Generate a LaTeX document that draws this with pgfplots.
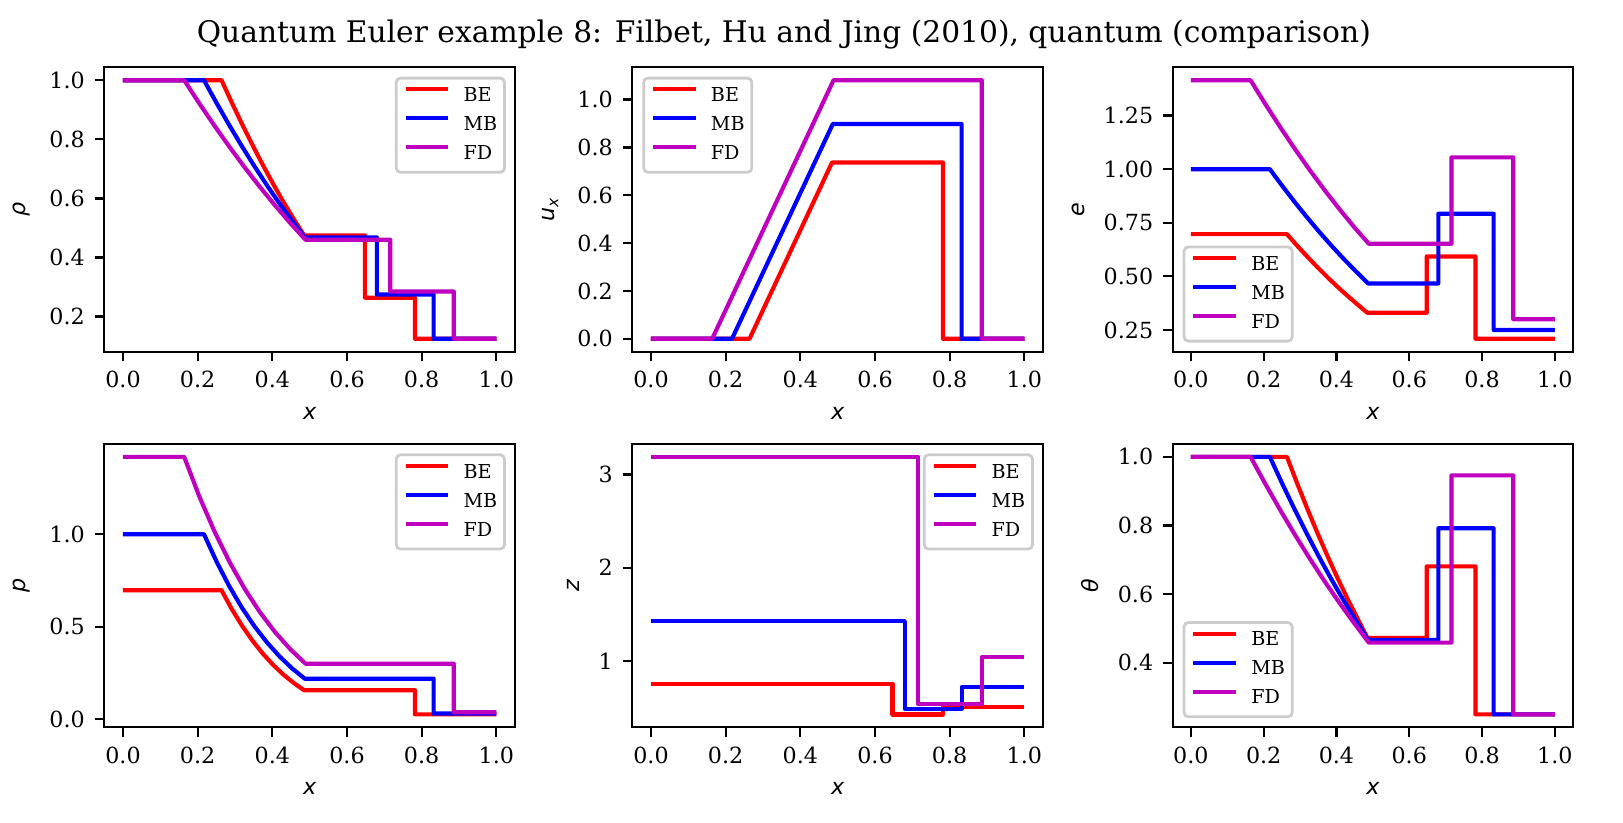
\documentclass[border=0pt]{standalone}
\usepackage{fontspec}
\setmainfont{DejaVu Serif}
\newfontfamily\lblfont{DejaVu Sans}[ItalicFont={DejaVu Sans Oblique}]
\usepackage{pgfplots}
\pgfplotsset{compat=1.18}
\definecolor{cBE}{rgb}{1,0,0}
\definecolor{cMB}{rgb}{0,0,1}
\definecolor{cFD}{rgb}{0.75,0,0.75}
\newcommand\sub[1]{\raisebox{-0.3ex}{\fontsize{5.6}{6}\selectfont #1}}
\pgfplotsset{
  base/.style={
    scale only axis, anchor=south west,
    xmin=-0.05, xmax=1.05,
    xtick={0,0.2,0.4,0.6,0.8,1.0},
    xticklabels={0.0,0.2,0.4,0.6,0.8,1.0},
    xtick pos=bottom, ytick pos=left,
    tick align=outside, major tick length=3.5pt,
    every tick/.style={black, line width=0.8pt},
    axis line style={line width=0.8pt},
    ticklabel style={font=\fontsize{8}{9.6}\selectfont},
    label style={font=\fontsize{8}{9.6}\selectfont\lblfont\itshape},
    xlabel={x},
    /pgf/number format/assume math mode=true,
    every axis plot/.append style={line width=1.5pt, line join=round, no markers},
    legend cell align=left,
    legend image code/.code={\draw[#1,line width=1.5pt] (0pt,2.5pt) -- (15.3pt,2.5pt); \path (20.1pt,0pt);},
    legend style={draw=black!20, line width=1pt, rounded corners=1.5pt,
      fill=white, fill opacity=0.8, draw opacity=1, text opacity=1,
      font=\fontsize{6.9}{8.3}\selectfont,
      inner xsep=2.6pt, inner ysep=2.5pt, row sep=2.45pt,
      nodes={inner sep=0pt, text height=5.9pt, text depth=2.1pt}},
  },
  col1/.style={base, at={(37.55pt,#1)}, width=147.85pt},
  col2/.style={base, at={(227.63pt,#1)}, width=147.85pt},
  col3/.style={base, at={(422.17pt,#1)}, width=144.1pt},
  toprow/.style={height=102.38pt},
  botrow/.style={height=101.99pt},
  legNE/.style={legend style={at={(1,1)}, anchor=north east, xshift=-3.3pt, yshift=-3.4pt}},
  legNW/.style={legend style={at={(0,1)}, anchor=north west, xshift=3.6pt, yshift=-3.4pt}},
  legSW/.style={legend style={at={(0,0)}, anchor=south west, xshift=3.6pt, yshift=3.3pt}},
}
\begin{document}
\begin{tikzpicture}
\useasboundingbox (0,0) rectangle (584.28pt,296.28pt);
\node[font=\fontsize{10.7}{12.8}\selectfont] at (282.2pt,283.7pt) {Quantum Euler example 8: Filbet, Hu and Jing (2010), quantum (comparison)};

% rho
\begin{axis}[col1=169.67pt, toprow, legNE, ymin=0.08125, ymax=1.04375,
  ytick={0.2,0.4,0.6,0.8,1.0}, yticklabels={0.2,0.4,0.6,0.8,1.0}, ylabel={ρ}]
\addplot[cBE] coordinates {(0,1) (0.264,1) (0.2916,0.9238) (0.3193,0.8506) (0.3469,0.7805) (0.3745,0.7134) (0.4021,0.6492) (0.4298,0.5881) (0.4574,0.5301) (0.485,0.475) (0.648,0.475) (0.648,0.264) (0.782,0.264) (0.782,0.125) (1,0.125)};
\addplot[cMB] coordinates {(0,1) (0.217,1) (0.2508,0.9226) (0.2845,0.8483) (0.3183,0.7771) (0.352,0.7091) (0.3858,0.6441) (0.4195,0.5823) (0.4533,0.5236) (0.487,0.468) (0.680,0.468) (0.680,0.275) (0.832,0.275) (0.832,0.125) (1,0.125)};
\addplot[cFD] coordinates {(0,1) (0.164,1) (0.2046,0.9212) (0.2453,0.8456) (0.2859,0.7732) (0.3265,0.7041) (0.3671,0.6382) (0.4078,0.5756) (0.4484,0.5161) (0.489,0.460) (0.716,0.460) (0.716,0.285) (0.886,0.285) (0.886,0.125) (1,0.125)};
\legend{BE,MB,FD}
\end{axis}

% u_x
\begin{axis}[col2=169.67pt, toprow, legNW, ymin=-0.054, ymax=1.135,
  ytick={0,0.2,0.4,0.6,0.8,1.0}, yticklabels={0.0,0.2,0.4,0.6,0.8,1.0}, ylabel={u\sub{x}}]
\addplot[cBE] coordinates {(0,0) (0.264,0) (0.485,0.737) (0.782,0.737) (0.782,0) (1,0)};
\addplot[cMB] coordinates {(0,0) (0.217,0) (0.487,0.898) (0.832,0.898) (0.832,0) (1,0)};
\addplot[cFD] coordinates {(0,0) (0.164,0) (0.489,1.081) (0.886,1.081) (0.886,0) (1,0)};
\legend{BE,MB,FD}
\end{axis}

% e
\begin{axis}[col3=169.67pt, toprow, legSW, ymin=0.1487, ymax=1.4753,
  ytick={0.25,0.5,0.75,1.0,1.25}, yticklabels={0.25,0.50,0.75,1.00,1.25}, ylabel={e}]
\addplot[cBE] coordinates {(0,0.697) (0.264,0.697) (0.2916,0.6439) (0.3193,0.5929) (0.3469,0.5440) (0.3745,0.4972) (0.4021,0.4525) (0.4298,0.4099) (0.4574,0.3695) (0.485,0.330) (0.648,0.330) (0.648,0.593) (0.782,0.593) (0.782,0.209) (1,0.209)};
\addplot[cMB] coordinates {(0,1) (0.217,1) (0.2508,0.9226) (0.2845,0.8483) (0.3183,0.7771) (0.352,0.7091) (0.3858,0.6441) (0.4195,0.5823) (0.4533,0.5236) (0.487,0.467) (0.680,0.467) (0.680,0.792) (0.832,0.792) (0.832,0.25) (1,0.25)};
\addplot[cFD] coordinates {(0,1.415) (0.164,1.415) (0.2046,1.3035) (0.2453,1.1965) (0.2859,1.0941) (0.3265,0.9963) (0.3671,0.9031) (0.4078,0.8144) (0.4484,0.7303) (0.489,0.652) (0.716,0.652) (0.716,1.055) (0.886,1.055) (0.886,0.300) (1,0.300)};
\legend{BE,MB,FD}
\end{axis}

% p
\begin{axis}[col1=34.45pt, botrow, legNE, ymin=-0.0436, ymax=1.4876,
  ytick={0,0.5,1.0}, yticklabels={0.0,0.5,1.0}, ylabel={p}]
\addplot[cBE] coordinates {(0,0.697) (0.264,0.697) (0.2916,0.5948) (0.3193,0.5043) (0.3469,0.4246) (0.3745,0.3547) (0.4021,0.2938) (0.4298,0.2411) (0.4574,0.1958) (0.485,0.157) (0.782,0.157) (0.782,0.026) (1,0.026)};
\addplot[cMB] coordinates {(0,1) (0.217,1) (0.2508,0.8512) (0.2845,0.7196) (0.3183,0.6039) (0.352,0.5028) (0.3858,0.4149) (0.4195,0.3391) (0.4533,0.2741) (0.487,0.219) (0.832,0.219) (0.832,0.031) (1,0.031)};
\addplot[cFD] coordinates {(0,1.418) (0.164,1.418) (0.2046,1.2032) (0.2453,1.0139) (0.2859,0.8478) (0.3265,0.7030) (0.3671,0.5776) (0.4078,0.4697) (0.4484,0.3778) (0.489,0.300) (0.886,0.300) (0.886,0.0375) (1,0.0375)};
\legend{BE,MB,FD}
\end{axis}

% z
\begin{axis}[col2=34.45pt, botrow, legNE, ymin=0.287, ymax=3.327,
  ytick={1,2,3}, yticklabels={1,2,3}, ylabel={z}]
\addplot[cBE] coordinates {(0,0.753) (0.647,0.753) (0.647,0.425) (0.782,0.425) (0.782,0.506) (1,0.506)};
\addplot[cMB] coordinates {(0,1.426) (0.680,1.426) (0.680,0.485) (0.832,0.485) (0.832,0.715) (1,0.715)};
\addplot[cFD] coordinates {(0,3.189) (0.716,3.189) (0.716,0.535) (0.886,0.535) (0.886,1.04) (1,1.04)};
\legend{BE,MB,FD}
\end{axis}

% theta
\begin{axis}[col3=34.45pt, botrow, legSW, ymin=0.2125, ymax=1.0375,
  ytick={0.4,0.6,0.8,1.0}, yticklabels={0.4,0.6,0.8,1.0}, ylabel={θ}]
\addplot[cBE] coordinates {(0,1) (0.264,1) (0.2916,0.9238) (0.3193,0.8506) (0.3469,0.7805) (0.3745,0.7134) (0.4021,0.6492) (0.4298,0.5881) (0.4574,0.5301) (0.485,0.473) (0.648,0.473) (0.648,0.681) (0.782,0.681) (0.782,0.25) (1,0.25)};
\addplot[cMB] coordinates {(0,1) (0.217,1) (0.2508,0.9226) (0.2845,0.8483) (0.3183,0.7771) (0.352,0.7091) (0.3858,0.6441) (0.4195,0.5823) (0.4533,0.5236) (0.487,0.467) (0.680,0.467) (0.680,0.792) (0.832,0.792) (0.832,0.25) (1,0.25)};
\addplot[cFD] coordinates {(0,1) (0.164,1) (0.2046,0.9212) (0.2453,0.8456) (0.2859,0.7732) (0.3265,0.7041) (0.3671,0.6382) (0.4078,0.5756) (0.4484,0.5161) (0.489,0.459) (0.716,0.459) (0.716,0.946) (0.886,0.946) (0.886,0.25) (1,0.25)};
\legend{BE,MB,FD}
\end{axis}
\end{tikzpicture}
\end{document}
